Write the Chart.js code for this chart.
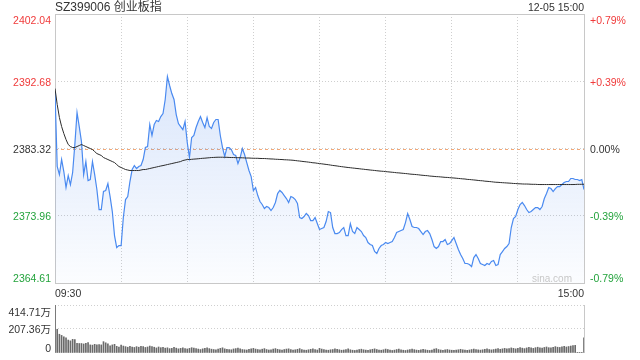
<!DOCTYPE html>
<html>
<head>
<meta charset="utf-8">
<script src="https://cdn.jsdelivr.net/npm/chart.js@4/dist/chart.umd.min.js"></script>
<style>
html, body { margin: 0; padding: 0; background: #fff; }
#wrap { position: relative; width: 640px; height: 360px; overflow: hidden; font-family: "Liberation Sans", Arial, "Noto Sans CJK SC", sans-serif; color: #333; }
canvas { position: absolute; left: 0; }
#priceChart { top: 0; }
#volChart { top: 290px; }
.txt { position: absolute; white-space: nowrap; }
</style>
</head>
<body>
<div id="wrap">
  <canvas id="priceChart" width="640" height="290"></canvas>
  <canvas id="volChart" width="640" height="70"></canvas>
  <div class="txt" style="left:55px;top:0;font-size:12px;line-height:15px;">SZ399006 创业板指</div>
  <div class="txt" style="right:56px;top:1px;font-size:10.5px;line-height:13px;">12-05 15:00</div>
  <div class="txt" id="tStart" style="left:55px;top:287px;font-size:10.5px;line-height:13px;"></div>
  <div class="txt" id="tEnd" style="right:56px;top:287px;font-size:10.5px;line-height:13px;"></div>
</div>
<script>
// 昨收 and axis ticks
const prevClose = 2383.32;
const priceTicks = [2364.61, 2373.96, 2383.32, 2392.68, 2402.04];
const pctLabels = ['-0.79%', '-0.39%', '0.00%', '+0.39%', '+0.79%'];
const volTicks = [0, 207.36, 414.71];
const volLabels = ['0', '207.36万', '414.71万'];
const timeLabels = ['09:30', '15:00'];

// minute prices 09:30 - 15:00 (241 points)
const prices = [
  2391.25, 2380.82, 2379.70, 2381.79, 2380.12, 2377.89, 2379.56, 2378.31, 2379.98, 2383.88,
  2388.33, 2386.38, 2384.29, 2379.70, 2381.51, 2378.87, 2379.01, 2381.51, 2379.70, 2377.62,
  2374.83, 2374.83, 2377.34, 2377.48, 2378.45, 2376.64, 2374.55, 2371.21, 2369.55, 2369.82,
  2369.82, 2373.72, 2376.22, 2376.64, 2378.73, 2380.40, 2380.95, 2380.54, 2380.82, 2380.95,
  2381.79, 2383.46, 2383.60, 2386.66, 2385.13, 2386.66, 2387.22, 2387.08,
  2387.77, 2388.19, 2390.14, 2393.34, 2392.09, 2390.97, 2390.14, 2388.05, 2386.80, 2386.38,
  2385.96, 2387.08, 2384.16, 2382.07, 2384.85, 2385.13, 2386.24, 2387.08, 2387.77, 2386.94,
  2386.24, 2387.63, 2386.38, 2386.10, 2386.94, 2387.36, 2387.36, 2385.13, 2383.46, 2382.21,
  2383.46, 2383.46, 2383.18, 2382.49, 2382.35, 2381.23, 2382.07, 2383.32, 2382.49, 2381.37,
  2380.26, 2379.42, 2377.48, 2377.89, 2376.78, 2375.95, 2375.53, 2374.97,
  2375.25, 2375.11, 2374.69, 2375.11, 2375.81, 2377.06, 2377.48, 2377.20, 2376.78, 2376.36,
  2375.81, 2376.64, 2376.50, 2376.22, 2375.67, 2373.72, 2373.58, 2373.86, 2374.28, 2374.00,
  2373.30, 2373.30, 2373.72, 2372.88, 2372.05, 2372.19, 2372.33, 2373.16, 2374.55, 2374.41,
  2372.33, 2371.49, 2371.49, 2371.63, 2372.05, 2372.33, 2371.21, 2371.21, 2372.88, 2371.77,
  2371.49, 2372.33, 2372.05, 2371.77, 2371.21, 2370.94, 2370.24,
  2369.96, 2369.82, 2368.99, 2368.71, 2369.41, 2369.82, 2369.96, 2370.24, 2370.10, 2370.24,
  2370.38, 2370.94, 2371.63, 2371.77, 2371.91, 2372.05, 2373.02, 2374.28, 2373.44, 2372.47,
  2372.33, 2372.33, 2372.19, 2371.77, 2371.35, 2371.77, 2371.91, 2371.49, 2370.66, 2369.68,
  2369.41, 2369.68, 2370.38, 2370.38, 2370.66, 2369.96, 2370.10, 2370.52, 2370.94, 2370.10,
  2369.27, 2368.57, 2368.01, 2367.32, 2367.32, 2367.18, 2366.90,
  2368.15, 2368.57, 2368.01, 2367.32, 2367.18, 2367.04, 2367.32, 2367.18, 2367.60, 2367.74,
  2367.04, 2367.18, 2368.57, 2368.99, 2369.41, 2369.68, 2370.10, 2372.33, 2373.58, 2373.86,
  2374.83, 2375.53, 2375.81, 2375.39, 2374.83, 2374.41, 2374.55, 2374.83, 2375.11, 2375.11,
  2374.83, 2375.25, 2376.36, 2377.06, 2377.89, 2377.75, 2377.34, 2377.75, 2378.03, 2378.03,
  2378.31, 2378.59, 2378.73, 2378.73, 2379.15, 2379.15, 2379.01, 2379.01, 2378.87, 2379.01,
  2377.62
];

// 均价 line
const avgPrices = [
  2391.67, 2389.44, 2387.63, 2386.38, 2385.41, 2384.57, 2383.88, 2383.60, 2383.46, 2383.46,
  2383.60, 2383.74, 2383.88, 2383.74, 2383.60, 2383.46, 2383.32, 2383.18, 2382.90, 2382.62,
  2382.49, 2382.35, 2382.07, 2381.93, 2381.79, 2381.65, 2381.51, 2381.37, 2381.09, 2380.82,
  2380.68, 2380.54, 2380.40, 2380.33, 2380.26, 2380.26, 2380.26, 2380.26, 2380.26, 2380.33,
  2380.40, 2380.40, 2380.47, 2380.54, 2380.61, 2380.68, 2380.75, 2380.82, 2380.89, 2380.95,
  2381.02, 2381.09, 2381.16, 2381.23, 2381.30, 2381.37, 2381.44, 2381.51, 2381.65, 2381.72,
  2381.79, 2381.79, 2381.82, 2381.85, 2381.87, 2381.90, 2381.93, 2381.96, 2381.98, 2382.01,
  2382.04, 2382.07, 2382.08, 2382.10, 2382.11, 2382.11, 2382.11, 2382.10, 2382.10, 2382.08,
  2382.07, 2382.07, 2382.05, 2382.04, 2382.04, 2382.03, 2382.01, 2382.00, 2382.00, 2381.98,
  2381.97, 2381.96, 2381.96, 2381.94, 2381.93, 2381.93, 2381.91, 2381.89, 2381.87, 2381.86,
  2381.83, 2381.82, 2381.80, 2381.79, 2381.76, 2381.75, 2381.73, 2381.71, 2381.69, 2381.65,
  2381.61, 2381.58, 2381.54, 2381.50, 2381.47, 2381.43, 2381.39, 2381.34, 2381.32, 2381.27,
  2381.23, 2381.19, 2381.15, 2381.11, 2381.07, 2381.02, 2380.97, 2380.93, 2380.89, 2380.84,
  2380.80, 2380.76, 2380.72, 2380.68, 2380.65, 2380.61, 2380.58, 2380.54, 2380.51, 2380.47,
  2380.44, 2380.40, 2380.37, 2380.33, 2380.30, 2380.27, 2380.23, 2380.20, 2380.17, 2380.15,
  2380.11, 2380.08, 2380.05, 2380.02, 2379.99, 2379.95, 2379.93, 2379.90, 2379.87, 2379.84,
  2379.81, 2379.77, 2379.74, 2379.72, 2379.69, 2379.66, 2379.62, 2379.59, 2379.56, 2379.54,
  2379.49, 2379.47, 2379.44, 2379.41, 2379.40, 2379.37, 2379.34, 2379.31, 2379.30, 2379.27,
  2379.24, 2379.22, 2379.19, 2379.16, 2379.13, 2379.10, 2379.08, 2379.03, 2379.01, 2378.98,
  2378.95, 2378.92, 2378.88, 2378.85, 2378.83, 2378.78, 2378.76, 2378.73, 2378.70, 2378.66,
  2378.63, 2378.62, 2378.59, 2378.57, 2378.55, 2378.53, 2378.51, 2378.49, 2378.46, 2378.45,
  2378.42, 2378.41, 2378.39, 2378.38, 2378.38, 2378.37, 2378.35, 2378.34, 2378.34, 2378.32,
  2378.31, 2378.31, 2378.31, 2378.31, 2378.31, 2378.31, 2378.31, 2378.31, 2378.31, 2378.31,
  2378.31, 2378.31, 2378.31, 2378.31, 2378.31, 2378.31, 2378.32, 2378.34, 2378.34, 2378.35,
  2378.35
];

// 成交量 (万)
const volumes = [
  414.71, 205, 162, 152, 140, 132, 112, 105, 118, 116,
  84, 82, 82, 78, 84, 90, 70, 68, 75, 70,
  72, 70, 98, 88, 80, 62, 70, 75, 58, 52,
  68, 60, 55, 50, 58, 52, 48, 55, 50, 58,
  56, 48, 52, 60, 55, 50, 44, 52,
  46, 50, 42, 45, 38, 40, 48, 42, 36, 40, 44, 38,
  35, 40, 46, 42, 38, 34, 30, 36, 40, 44, 38, 33,
  30, 28, 34, 40, 45, 36, 32, 30, 28, 35, 38, 42,
  36, 30, 28, 26, 32, 36, 40, 34, 30, 28, 33, 38,
  30, 26, 28, 34, 38, 32, 28, 25, 30, 34, 36, 30,
  26, 28, 32, 38, 30, 26, 24, 28, 32, 36, 30, 26,
  40, 34, 30, 26, 24, 28, 30, 36, 32, 28, 24, 26,
  30, 35, 28, 24, 22, 26, 30, 33, 28, 25, 22, 28,
  32, 36, 30, 26, 24, 28, 34, 30, 26, 22, 25, 30,
  33, 28, 24, 22, 26, 30, 34, 29, 25, 23, 27, 31,
  28, 24, 22, 26, 34, 38, 30, 26, 24, 27, 30, 26,
  24, 22, 25, 28, 32, 28, 25, 23, 26, 30, 34, 30,
  27, 25, 28, 32, 36, 30, 27, 30, 34, 38, 32, 36,
  40, 35, 38, 44, 40, 36, 40, 46, 42, 38, 44, 48,
  44, 40, 46, 50, 45, 42, 48, 52, 46, 44, 50, 55,
  50, 48, 54, 58, 52, 56, 60, 64, 66,
  3, 3, 3,
  130
];

const UP = '#f03a3a', DOWN = '#23a33c', FLAT = '#333';
const FONT = '10.5px "Liberation Sans", Arial, "Noto Sans CJK SC", sans-serif';
const GRID = '#cfcfcf';
const tickColor = v => v > prevClose ? UP : v < prevClose ? DOWN : FLAT;

document.getElementById('tStart').textContent = timeLabels[0];
document.getElementById('tEnd').textContent = timeLabels[1];

const priceDecor = {
  id: 'priceDecor',
  beforeDatasetsDraw(chart) {
    const { ctx, chartArea: a, scales: { y } } = chart;
    ctx.save();
    const yc = Math.round(y.getPixelForValue(prevClose)) + 0.5;
    ctx.strokeStyle = '#f2a878';
    ctx.lineWidth = 1;
    ctx.setLineDash([3, 3]);
    ctx.beginPath(); ctx.moveTo(a.left, yc); ctx.lineTo(a.right, yc); ctx.stroke();
    ctx.setLineDash([]);
    ctx.strokeStyle = '#c8c8c8';
    ctx.strokeRect(a.left + 0.5, a.top + 0.5, a.right - a.left, a.bottom - a.top);
    ctx.restore();
  },
  afterDraw(chart) {
    const { ctx, chartArea: a, scales: { y } } = chart;
    ctx.save();
    ctx.font = FONT;
    ctx.textBaseline = 'middle';
    priceTicks.forEach((v, i) => {
      let py = y.getPixelForValue(v) + 1.5;
      if (i === 0) py -= 5;
      if (i === priceTicks.length - 1) py += 6;
      ctx.fillStyle = tickColor(v);
      ctx.textAlign = 'right';
      ctx.fillText(v.toFixed(2), 51, py);
      ctx.textAlign = 'left';
      ctx.fillText(pctLabels[i], 590, py);
    });
    ctx.fillStyle = '#c8c8c8';
    ctx.font = '10px "Liberation Sans", Arial, sans-serif';
    ctx.textAlign = 'left';
    ctx.fillText('sina.com', 532, a.bottom - 4);
    ctx.restore();
  }
};

new Chart(document.getElementById('priceChart'), {
  type: 'line',
  data: {
    datasets: [
      {
        label: '均价',
        data: avgPrices.map((v, i) => ({ x: i, y: v })),
        borderColor: '#2b2b2b', borderWidth: 1, pointRadius: 0, fill: false
      },
      {
        label: '价格',
        data: prices.map((v, i) => ({ x: i, y: v })),
        borderColor: '#4a8af0', borderWidth: 1.2, pointRadius: 0, fill: 'start',
        backgroundColor: (c) => {
          const a = c.chart.chartArea;
          if (!a) return 'rgba(70,130,235,0.1)';
          const g = c.chart.ctx.createLinearGradient(0, a.top, 0, a.bottom);
          g.addColorStop(0, 'rgba(70,130,235,0.25)');
          g.addColorStop(1, 'rgba(70,130,235,0.02)');
          return g;
        }
      }
    ]
  },
  options: {
    responsive: false, animation: false, events: [],
    layout: { padding: { top: 14, bottom: 7, left: 0, right: 0 } },
    plugins: { legend: { display: false }, tooltip: { enabled: false } },
    scales: {
      x: {
        type: 'linear', min: 0, max: 240,
        ticks: { display: false, stepSize: 30 },
        grid: { color: GRID, drawTicks: false },
        border: { display: false, dash: [1, 2] },
        afterFit: s => { s.height = 0; }
      },
      y: {
        position: 'left', min: priceTicks[0], max: priceTicks[priceTicks.length - 1],
        afterBuildTicks: s => { s.ticks = priceTicks.map(v => ({ value: v })); },
        ticks: { display: false },
        grid: { color: GRID, drawTicks: false },
        border: { display: false, dash: [1, 2] },
        afterFit: s => { s.width = 55; }
      },
      y2: {
        position: 'right', min: priceTicks[0], max: priceTicks[priceTicks.length - 1],
        ticks: { display: false },
        grid: { display: false },
        border: { display: false },
        afterFit: s => { s.width = 56; }
      }
    }
  },
  plugins: [priceDecor]
});

const volDecor = {
  id: 'volDecor',
  beforeDatasetsDraw(chart) {
    const { ctx, chartArea: a } = chart;
    ctx.save();
    ctx.strokeStyle = '#c8c8c8';
    ctx.lineWidth = 1;
    ctx.beginPath();
    ctx.moveTo(a.left + 0.5, a.top); ctx.lineTo(a.left + 0.5, a.bottom);
    ctx.moveTo(a.right + 0.5, a.top); ctx.lineTo(a.right + 0.5, a.bottom);
    ctx.stroke();
    ctx.restore();
  },
  afterDraw(chart) {
    const { ctx, scales: { y } } = chart;
    ctx.save();
    ctx.font = FONT;
    ctx.fillStyle = '#333';
    ctx.textAlign = 'right';
    ctx.textBaseline = 'middle';
    volTicks.forEach((v, i) => {
      let py = y.getPixelForValue(v) + 1.5;
      if (i === 0) py -= 5;
      if (i === volTicks.length - 1) py += 7;
      ctx.fillText(volLabels[i], 51, py);
    });
    ctx.restore();
  }
};

new Chart(document.getElementById('volChart'), {
  type: 'bar',
  data: {
    datasets: [{
      label: '成交量',
      data: volumes.map((v, i) => ({ x: i, y: v })),
      backgroundColor: '#6a6a6a', borderWidth: 0, barThickness: 1
    }]
  },
  options: {
    responsive: false, animation: false, events: [],
    layout: { padding: { top: 15, bottom: 7, left: 0, right: 0 } },
    plugins: { legend: { display: false }, tooltip: { enabled: false } },
    scales: {
      x: {
        type: 'linear', min: 0, max: 240, offset: false,
        ticks: { display: false },
        grid: { display: false },
        border: { display: false },
        afterFit: s => { s.height = 0; }
      },
      y: {
        position: 'left', min: 0, max: volTicks[volTicks.length - 1],
        afterBuildTicks: s => { s.ticks = volTicks.map(v => ({ value: v })); },
        ticks: { display: false },
        grid: { color: c => (c.tick && c.tick.value === 0) ? 'rgba(0,0,0,0)' : GRID, drawTicks: false },
        border: { display: false, dash: [1, 2] },
        afterFit: s => { s.width = 55; }
      },
      y2: {
        position: 'right', min: 0, max: volTicks[volTicks.length - 1],
        ticks: { display: false },
        grid: { display: false },
        border: { display: false },
        afterFit: s => { s.width = 56; }
      }
    }
  },
  plugins: [volDecor]
});
</script>
</body>
</html>
